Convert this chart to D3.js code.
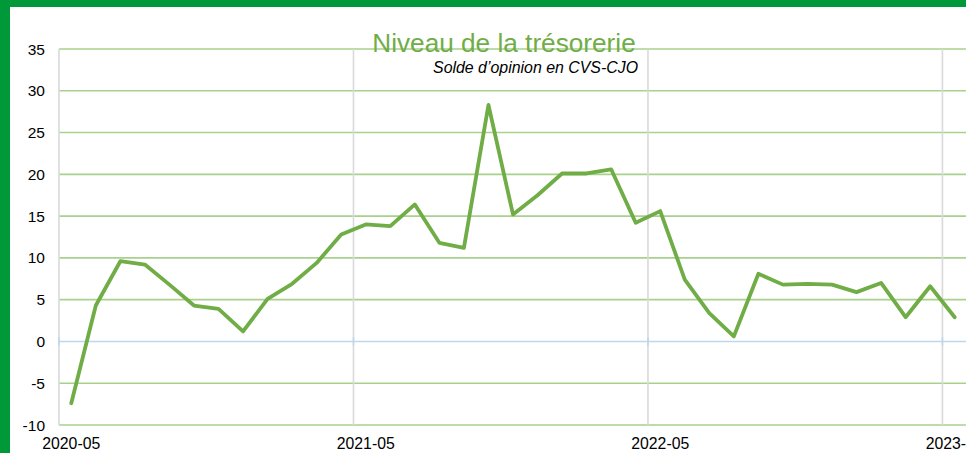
<!DOCTYPE html>
<html>
<head>
<meta charset="utf-8">
<script src="https://cdn.jsdelivr.net/npm/d3@7"></script>
<style>
  html, body { margin: 0; padding: 0; background: #fff; overflow: hidden; }
  svg { display: block; font-family: "Liberation Sans", Arial, sans-serif; }
</style>
</head>
<body>
<svg id="chart" width="966" height="453"></svg>
<script>
const categories = [
  "2020-05","2020-06","2020-07","2020-08","2020-09","2020-10","2020-11","2020-12",
  "2021-01","2021-02","2021-03","2021-04","2021-05","2021-06","2021-07","2021-08",
  "2021-09","2021-10","2021-11","2021-12","2022-01","2022-02","2022-03","2022-04",
  "2022-05","2022-06","2022-07","2022-08","2022-09","2022-10","2022-11","2022-12",
  "2023-01","2023-02","2023-03","2023-04","2023-05"
];
const tresorerie = [
  -7.4, 4.3, 9.6, 9.2, 6.8, 4.3, 3.9, 1.2,
  5.1, 6.9, 9.4, 12.8, 14.0, 13.8, 16.4, 11.8,
  11.2, 28.3, 15.2, 17.5, 20.1, 20.1, 20.6, 14.2,
  15.6, 7.4, 3.4, 0.6, 8.1, 6.8, 6.9, 6.8,
  5.9, 7.0, 2.9, 6.6, 2.9
];
const yTicks = [-10, -5, 0, 5, 10, 15, 20, 25, 30, 35];
const xTickLabels = ["2020-05", "2021-05", "2022-05", "2023-05"];
const titleText = "Niveau de la trésorerie";
const subtitleText = "Solde d\u2019opinion en CVS-CJO";

const svg = d3.select("#chart");
const W = 966, H = 453;

// Frame
svg.append("rect").attr("x", 0).attr("y", 0).attr("width", W).attr("height", 7).attr("fill", "#00993a");
svg.append("rect").attr("x", 0).attr("y", 0).attr("width", 10).attr("height", H).attr("fill", "#00993a");

const plotLeft = 59, plotTop = 49, plotBottom = 425;
const step = 24.54;
const x = d3.scaleBand().domain(categories).range([plotLeft, plotLeft + step * categories.length]).padding(0);
const y = d3.scaleLinear().domain([-10, 35]).range([plotBottom, plotTop]);
const plotRight = plotLeft + step * categories.length;

// Horizontal gridlines
svg.append("g").selectAll("line").data(yTicks.filter(d => d !== 0)).join("line")
  .attr("x1", plotLeft).attr("x2", plotRight)
  .attr("y1", d => y(d)).attr("y2", d => y(d))
  .attr("stroke", "#a9d18e").attr("stroke-width", 1.6);

// Vertical gridlines at year boundaries
svg.append("g").selectAll("line").data(xTickLabels.filter(d => categories.includes(d))).join("line")
  .attr("x1", d => x(d)).attr("x2", d => x(d))
  .attr("y1", plotTop).attr("y2", plotBottom)
  .attr("stroke", "#d9d9d9").attr("stroke-width", 1.6);

// Zero line (category axis)
svg.append("line")
  .attr("x1", plotLeft - 1).attr("x2", plotRight)
  .attr("y1", y(0)).attr("y2", y(0))
  .attr("stroke", "#bdd7ee").attr("stroke-width", 1.6);
svg.append("g").selectAll("line").data(xTickLabels.filter(d => categories.includes(d))).join("line")
  .attr("x1", d => x(d)).attr("x2", d => x(d))
  .attr("y1", y(0) - 4).attr("y2", y(0) + 4)
  .attr("stroke", "#bdd7ee").attr("stroke-width", 1.6);

// Y axis labels
svg.append("g").selectAll("text").data(yTicks).join("text")
  .attr("x", 45).attr("y", d => y(d)).attr("dy", "0.36em")
  .attr("text-anchor", "end").attr("font-size", 15.5).attr("fill", "#000")
  .text(d => d);

// X axis labels
svg.append("g").selectAll("text").data(xTickLabels).join("text")
  .attr("x", d => x(d) + x.bandwidth() / 2).attr("y", 449)
  .attr("text-anchor", "middle").attr("font-size", 15.8).attr("fill", "#000")
  .text(d => d);

// Line
const line = d3.line()
  .x((d, i) => x(categories[i]) + x.bandwidth() / 2)
  .y(d => y(d));
svg.append("path").datum(tresorerie)
  .attr("d", line)
  .attr("fill", "none").attr("stroke", "#70ad47").attr("stroke-width", 3.8)
  .attr("stroke-linejoin", "round").attr("stroke-linecap", "round");

// Title
svg.append("text").attr("x", 504).attr("y", 52).attr("text-anchor", "middle")
  .attr("font-size", 26.2).attr("fill", "#70ad47").text(titleText);
svg.append("text").attr("x", 638).attr("y", 73).attr("text-anchor", "end")
  .attr("font-size", 15.9).attr("font-style", "italic").attr("fill", "#000").text(subtitleText);
</script>
</body>
</html>
